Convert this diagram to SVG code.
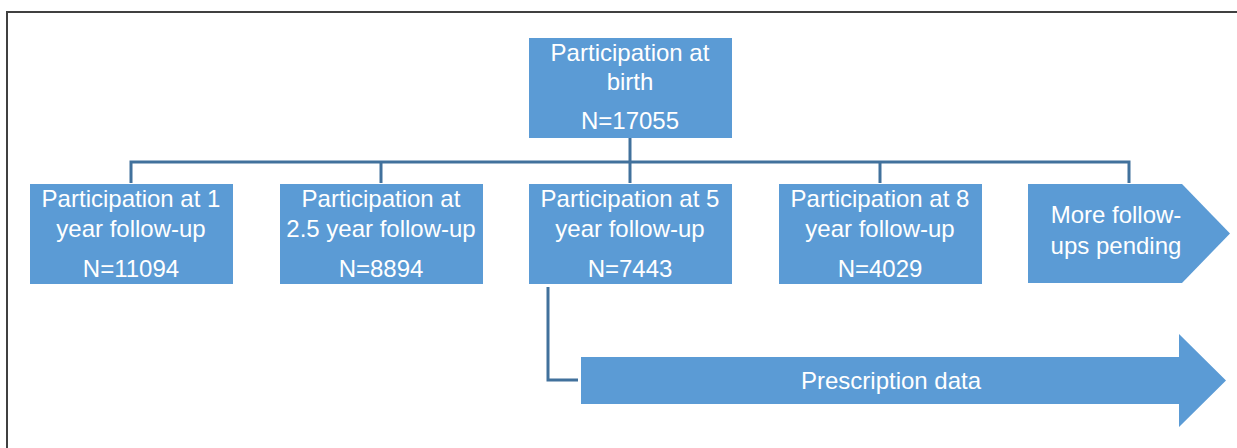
<svg xmlns="http://www.w3.org/2000/svg" width="1237" height="448" viewBox="0 0 1237 448">
<style>
.box{fill:#5b9bd5}
.t{font-family:"Liberation Sans",Arial,sans-serif;font-size:24px;fill:#ffffff;text-anchor:middle}
.c{stroke:#41719c;stroke-width:3;fill:none}
.frame{stroke:#404040;stroke-width:2;fill:none}
</style>
<rect width="1237" height="448" fill="#ffffff"/>
<path class="frame" d="M7,448 V12 H1237"/>
<g id="connectors">
<path class="c" d="M630,138 V183"/>
<path class="c" d="M131,183 V162 H1129 V183"/>
<path class="c" d="M381,162 V183"/>
<path class="c" d="M880,162 V183"/>
<path class="c" d="M548,287 V380 H578"/>
</g>
<g id="birth">
<rect class="box" x="529" y="38" width="203" height="100"/>
<text class="t" x="630" y="61">Participation at</text>
<text class="t" x="630" y="90">birth</text>
<text class="t" x="630" y="129">N=17055</text>
</g>
<g id="fu1">
<rect class="box" x="30" y="184" width="203" height="100"/>
<text class="t" x="131" y="207">Participation at 1</text>
<text class="t" x="131" y="237">year follow-up</text>
<text class="t" x="131" y="277">N=11094</text>
</g>
<g id="fu25">
<rect class="box" x="280" y="184" width="203" height="100"/>
<text class="t" x="381" y="207">Participation at</text>
<text class="t" x="381" y="237">2.5 year follow-up</text>
<text class="t" x="381" y="277">N=8894</text>
</g>
<g id="fu5">
<rect class="box" x="529" y="184" width="203" height="100"/>
<text class="t" x="630" y="207">Participation at 5</text>
<text class="t" x="630" y="237">year follow-up</text>
<text class="t" x="630" y="277">N=7443</text>
</g>
<g id="fu8">
<rect class="box" x="779" y="184" width="203" height="100"/>
<text class="t" x="880" y="207">Participation at 8</text>
<text class="t" x="880" y="237">year follow-up</text>
<text class="t" x="880" y="277">N=4029</text>
</g>
<g id="more">
<polygon class="box" points="1028,184 1182,184 1230,233.5 1182,283 1028,283"/>
<text class="t" x="1116" y="223">More follow-</text>
<text class="t" x="1116" y="254">ups pending</text>
</g>
<g id="prescription">
<polygon class="box" points="581,357 1179,357 1179,334 1226,380.5 1179,427 1179,404 581,404"/>
<text class="t" x="891" y="389">Prescription data</text>
</g>
</svg>
